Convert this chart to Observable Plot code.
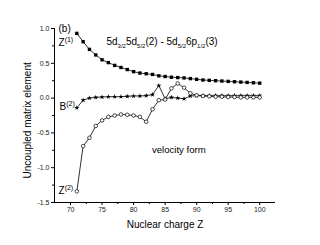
<!DOCTYPE html>
<html><head><meta charset="utf-8">
<script src="https://cdn.jsdelivr.net/npm/d3@7"></script>
<script src="https://cdn.jsdelivr.net/npm/@observablehq/plot@0.6"></script>
<style>body{margin:0;background:#fff;}</style>
</head><body><div id="chart"></div>
<script>
const nuclearCharge = [71,72,73,74,75,76,77,78,79,80,81,82,83,84,85,86,87,88,89,90,91,92,93,94,95,96,97,98,99,100];
const z1Values = [0.93,0.81,0.70,0.62,0.55,0.51,0.47,0.44,0.41,0.38,0.36,0.35,0.34,0.32,0.31,0.30,0.295,0.29,0.28,0.27,0.26,0.255,0.25,0.245,0.24,0.235,0.23,0.225,0.22,0.215];
const b2Values = [-0.14,-0.03,0.0,0.01,0.015,0.02,0.02,0.02,0.025,0.03,0.03,0.035,0.05,0.18,-0.01,0.01,0.0,-0.01,0.03,0.035,0.035,0.035,0.035,0.035,0.035,0.035,0.035,0.035,0.035,0.035];
const z2Values = [-1.34,-0.69,-0.57,-0.40,-0.32,-0.27,-0.25,-0.235,-0.24,-0.25,-0.27,-0.34,-0.16,-0.03,-0.02,0.14,0.21,0.15,0.07,0.04,0.03,0.025,0.02,0.02,0.015,0.015,0.01,0.01,0.01,0.01];
const xTicks = [70,75,80,85,90,95,100];
const xMinorTicks = [72.5,77.5,82.5,87.5,92.5,97.5];
const yTicks = [-1.5,-1.0,-0.5,0.0,0.5,1.0];
const yMinorTicks = [-1.25,-0.75,-0.25,0.25,0.75];
const labelTexts = ["(b)", "Z^{(1)}", "5d_{3/2}5d_{5/2}(2) - 5d_{5/2}6p_{1/2}(3)", "B^{(2)}", "Z^{(2)}", "velocity form"];
const labelX = [68.1, 68.1, 75.7, 68.25, 68.1, 82.9];
const labelY = [0.99, 0.79, 0.81, -0.13, -1.33, -0.74];
const labelSize = [10, 10, 10, 10, 10, 9.6];
const xTitle = "Nuclear charge Z";
const yTitle = "Uncoupled matrix element";

const rows = (vals) => nuclearCharge.map((z, i) => ({z, v: vals[i]}));
const labels = labelTexts.map((t, i) => ({t, x: labelX[i], y: labelY[i], s: labelSize[i]}));
const font = "'Liberation Sans', Arial, sans-serif";

const plot = Plot.plot({
  width: 320, height: 245,
  marginLeft: 54, marginRight: 45, marginTop: 28, marginBottom: 43,
  style: {fontFamily: font, background: "#fff", color: "#000"},
  x: {domain: [67.46, 102.5]},
  y: {domain: [-1.5, 1.0]},
  marks: [
    Plot.ruleX([67.46], {stroke: "#000", strokeWidth: 1}),
    Plot.ruleY([-1.5], {stroke: "#000", strokeWidth: 1}),
    Plot.axisX(xTicks, {tickSize: 3, tickPadding: 2, fontSize: 7, tickFormat: d => String(d), label: null, fill: "#222"}),
    Plot.axisX(xMinorTicks, {tickSize: 2, tickFormat: () => "", label: null}),
    Plot.axisY(yTicks, {tickSize: 3, tickPadding: 2, fontSize: 7, tickFormat: d => d.toFixed(1), label: null, fill: "#222"}),
    Plot.axisY(yMinorTicks, {tickSize: 2, tickFormat: () => "", label: null}),
    Plot.text([xTitle], {frameAnchor: "bottom", dy: 25, fontSize: 10, fill: "#000"}),
    Plot.text([yTitle], {x: () => 63.2, y: () => -0.32, rotate: -90, fontSize: 10, fill: "#000"}),
    Plot.line(rows(z1Values), {x: "z", y: "v", stroke: "#000", strokeWidth: 0.8}),
    Plot.line(rows(b2Values), {x: "z", y: "v", stroke: "#000", strokeWidth: 0.8}),
    Plot.line(rows(z2Values), {x: "z", y: "v", stroke: "#000", strokeWidth: 0.8}),
    Plot.dot(rows(z1Values), {x: "z", y: "v", symbol: "square", r: 1.9, fill: "#000", stroke: "none"}),
    Plot.dot(rows(b2Values), {x: "z", y: "v", symbol: "star", r: 1.6, fill: "#000", stroke: "none"}),
    Plot.dot(rows(z2Values), {x: "z", y: "v", symbol: "circle", r: 1.8, fill: "#fff", stroke: "#000", strokeWidth: 0.7}),
    Plot.text(labels, {x: "x", y: "y", text: "t", fontSize: "s", textAnchor: "start", fill: "#000", className: "rich"})
  ]
});

// turn ^{..} and _{..} markup into super/subscript tspans
d3.select(plot).selectAll(".rich text").each(function() {
  const el = d3.select(this);
  const src = this.textContent;
  el.text(null);
  const re = /(\^|_)\{([^}]*)\}/g;
  let last = 0, m;
  while ((m = re.exec(src))) {
    if (m.index > last) el.append("tspan").text(src.slice(last, m.index));
    el.append("tspan")
      .attr("font-size", m[1] === "^" ? 7 : 6)
      .attr("baseline-shift", m[1] === "^" ? "4" : "-3")
      .text(m[2]);
    last = re.lastIndex;
  }
  if (last < src.length) el.append("tspan").text(src.slice(last));
});

document.getElementById("chart").append(plot);
</script>
</body></html>
